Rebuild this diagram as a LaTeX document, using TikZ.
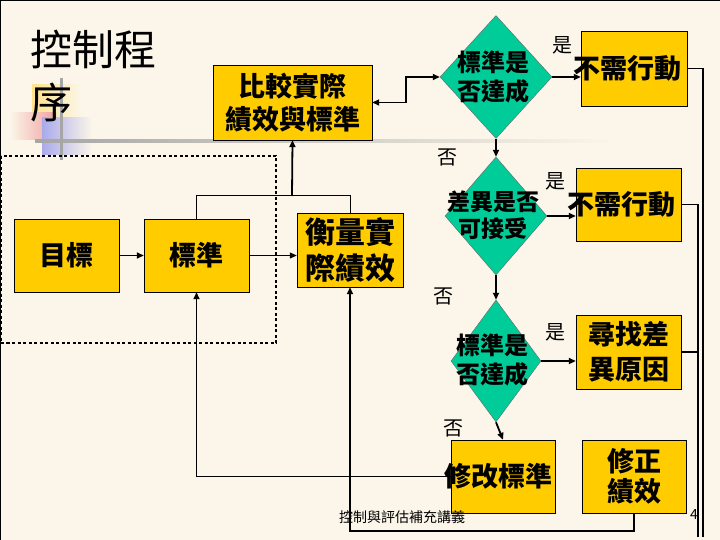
\documentclass[tikz,border=0pt]{standalone}
\usepackage{fontspec}
\setmainfont{Noto Sans CJK TC}
\usetikzlibrary{shapes.geometric,arrows.meta}
\definecolor{slidebg}{RGB}{251,246,233}
\definecolor{boxgold}{RGB}{255,204,0}
\definecolor{diateal}{RGB}{0,204,153}
\definecolor{decoyellow}{RGB}{255,226,140}
\definecolor{decopink}{RGB}{240,160,160}
\definecolor{decoblue}{RGB}{170,170,235}

\begin{document}
\begin{tikzpicture}[x=1pt, y=-1pt,
    box/.style={draw=black, fill=boxgold, minimum width=105pt, minimum height=73pt,
                inner sep=0pt, align=center, font=\bfseries\fontsize{27}{33}\selectfont},
    boxtext/.style={align=center, inner sep=0pt, font=\bfseries\fontsize{27}{33}\selectfont},
    dia/.style={diamond, draw=black!60, fill=diateal, inner sep=0pt},
    diatext/.style={align=center, inner sep=0pt, font=\bfseries\fontsize{24}{29}\selectfont},
    ans/.style={inner sep=0pt, font=\fontsize{20}{20}\selectfont},
    arrow/.style={-{Triangle[length=7pt,width=6pt]}, line width=1.8pt},
    link/.style={line width=1.2pt}
]
    % Slide background
    \useasboundingbox (0,0) rectangle (720,540);
    \fill[slidebg] (0,0) rectangle (720,540);
    \draw[line width=1.5pt] (0,540) -- (0,0) -- (720,0);

    % Title decoration
    \shade[left color=decoyellow, right color=slidebg] (32,85) rectangle (82,118);
    \shade[left color=slidebg, right color=decopink] (10,113) rectangle (56,140);
    \shade[left color=decoblue, right color=slidebg] (42,118) rectangle (92,155);
    \shade[left color=gray!70, right color=slidebg] (35,139.5) rectangle (615,142.5);
    \fill[gray!70] (59.5,78) rectangle (62.5,160);
    \node[anchor=base west, inner sep=0pt, align=left, font=\fontsize{42}{53}\selectfont]
        (title) at (30,119) {控制程\\序};

    % Left group
    \draw[line width=2.5pt, dash pattern=on 3pt off 2.5pt] (1,156) rectangle (276,343);
    \node[box] (goal) at (66.5,255.5) {目標};
    \node[box] (std)  at (196.5,255.5) {標準};
    \node[box, minimum width=106pt, minimum height=74pt, font=\bfseries\fontsize{30}{36}\selectfont]
        (meas) at (350,250) {衡量實\\際績效};
    \node[box, minimum width=159pt, minimum height=75pt] (cmp) at (292.5,102.5) {比較實際\\績效與標準};

    % Decisions
    \node[dia, minimum width=112pt, minimum height=123pt] (d1) at (496,77) {};
    \node[diatext] (d1t) at (493,77) {標準是\\否達成};
    \node[dia, minimum width=102pt, minimum height=118pt] (d2) at (496,216) {};
    \node[diatext, font=\bfseries\fontsize{23}{27}\selectfont] (d2t) at (493,215) {差異是否\\可接受};
    \node[dia, minimum width=90pt, minimum height=122pt] (d3) at (496,361) {};
    \node[diatext] (d3t) at (492,360) {標準是\\否達成};

    % Actions
    \node[box, minimum width=106pt, minimum height=75pt] (nb1) at (634,68.5) {};
    \node[boxtext] (nb1t) at (627.5,68.5) {不需行動};
    \node[box] (nb2) at (628.5,204.5) {};
    \node[boxtext] (nb2t) at (621.5,204.5) {不需行動};
    \node[box, minimum height=74pt, font=\bfseries\fontsize{27}{35}\selectfont]
        (cause) at (628.5,352) {尋找差\\異原因};
    \node[box, minimum width=104pt] (chg) at (503,476.5) {};
    \node[boxtext] (chgt) at (498,476) {修改標準};
    \node[box, minimum width=104pt, font=\bfseries\fontsize{27}{30}\selectfont]
        (fix) at (634,476.5) {修正\\績效};

    % Yes / no labels
    \node[ans] (y1) at (562,45)  {是};
    \node[ans] (n1) at (447,157) {否};
    \node[ans] (y2) at (555,181) {是};
    \node[ans] (n2) at (443,296) {否};
    \node[ans] (y3) at (555,332) {是};
    \node[ans] (n3) at (453,428) {否};

    % Footer
    \node[inner sep=0pt, font=\fontsize{14}{14}\selectfont] (foot) at (402,517) {控制與評估補充講義};
    \node[inner sep=0pt, font=\fontsize{14}{14}\selectfont] (page) at (694,515) {4};

    % Arrows
    \coordinate (jn) at (292,196);
    \coordinate (r1) at (703,537);
    \coordinate (r2) at (698,537);
    \draw[arrow] (goal) -- (std);
    \draw[arrow, line width=1pt] (std) -- (std -| meas.west);
    \draw[link, line width=1pt] (std.north) -- ++(0,-23) -| (meas.north);
    \draw[arrow] (jn) -- (cmp.south);
    \draw[{Triangle[length=7pt,width=6pt]}-{Triangle[length=7pt,width=6pt]}, line width=1.8pt]
        (cmp.east) -- ++(34,0) |- (d1.west);
    \draw[arrow] (d1) -- (d1 -| nb1.west);
    \draw[arrow] (d1.south) -- (d2.north);
    \draw[arrow] (d2) -- (d2 -| nb2.west);
    \draw[arrow] (d2.south) -- (d3.north);
    \draw[arrow] (d3) -- (d3 -| cause.west);
    \draw[arrow] (d3.south) -- (chg.north);
    \draw[arrow] (chg.west) -| (std.south);
    \draw[arrow, line width=2.4pt] (fix.south) -- ++(0,18) -| (meas.south);
    \draw[line width=1.8pt] (nb1.east) -| (r1);
    \draw[line width=1.8pt] (nb2.east) -| (r2);
    \draw[line width=1.8pt] (cause.east) -- (cause.east -| r2);
\end{tikzpicture}
\end{document}
